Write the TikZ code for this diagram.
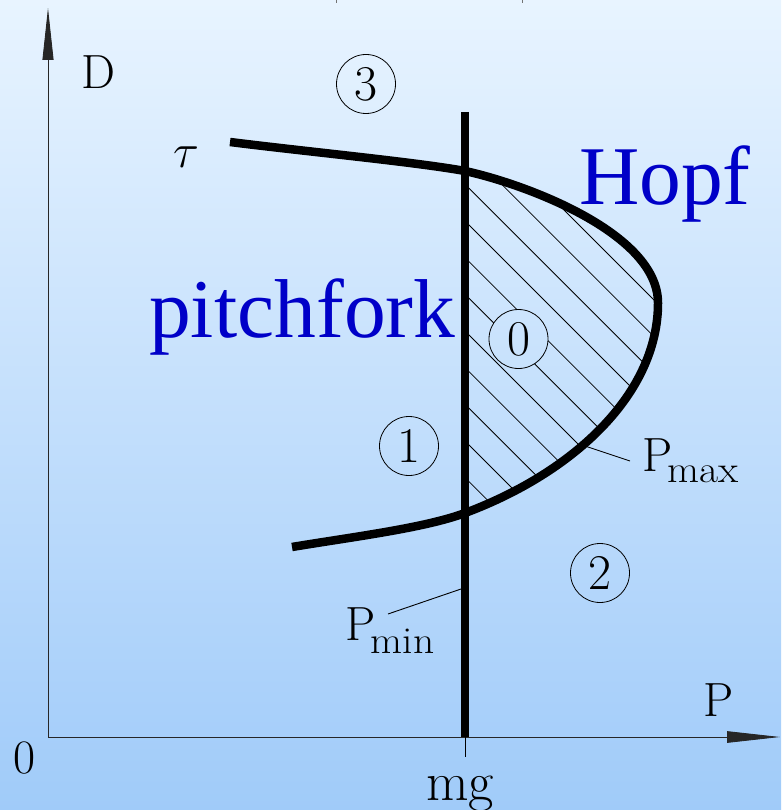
\RequirePackage{fix-cm}
\documentclass[tikz,border=0pt]{standalone}
\usepackage{fontspec}
\newfontfamily\timesf{Liberation Serif}
\usetikzlibrary{arrows.meta}
\definecolor{bgtop}{HTML}{E8F4FF}
\definecolor{bgbot}{HTML}{A0CBF9}
\definecolor{bifblue}{HTML}{0000C8}
\newcommand{\subtxt}[2]{\raisebox{#1}{\scalebox{1.09}[1]{\fontsize{38}{38}\selectfont #2}}}
\begin{document}
\begin{tikzpicture}[x=1pt,y=-1pt,
  axis/.style={line width=0.9pt, draw=black!85},
  heavy/.style={line width=8.5pt},
  hatchline/.style={line width=0.8pt},
  leader/.style={line width=0.9pt},
  region/.style={circle, draw, line width=0.8pt, minimum size=59pt, inner sep=0pt, font=\fontsize{50}{50}\selectfont},
  lab/.style={inner sep=0pt, font=\fontsize{48}{48}\selectfont},
  bif/.style={inner sep=0pt, text=bifblue, font=\timesf\fontsize{83.5}{83.5}\selectfont},
  bgshade/.style={top color=bgtop, bottom color=bgbot}
]
\shade[bgshade] (0,0) rectangle (781,810);
\useasboundingbox (0,0) rectangle (781,810);

% key points
\coordinate (O) at (48,737);
\coordinate (Ytip) at (48,8);
\coordinate (Xtip) at (780,737);
\coordinate (Vtop) at (465,112);
\coordinate (Vbot) at (465,737);
\coordinate (Tick) at (465,757);
\coordinate (A) at (230,142);
\coordinate (B) at (465,171);
\coordinate (C) at (658,303);
\coordinate (E) at (465,513);
\coordinate (F) at (292,547);
\coordinate (pminA) at (388,614);
\coordinate (pminB) at (461,589);
\coordinate (pmaxA) at (582,445);
\coordinate (pmaxB) at (630,461);
\coordinate (t1a) at (336,0);
\coordinate (t1b) at (336,3);
\coordinate (t2a) at (522,0);
\coordinate (t2b) at (522,3);

% hatched region
\begin{scope}
  \clip (B) .. controls (525,184) and (658,233) .. (C)
            .. controls (658,393) and (575,472) .. (E) -- cycle;
  \foreach \k in {-4,...,9} {
    \draw[hatchline] (440,{440-280.7+36.67*\k}) -- (720,{720-280.7+36.67*\k});
  }
\end{scope}
% circle 0 hides the hatching
\begin{scope}
  \clip (518.5,339) circle (29.5);
  \shade[bgshade] (0,0) rectangle (781,810);
\end{scope}

% axes
\draw[axis, -{Triangle[length=52pt,width=11pt]}] (O) -- (Ytip);
\draw[axis, -{Triangle[length=53pt,width=11.5pt]}] (O) -- (Xtip);
\draw[line width=0.8pt] (Vbot) -- (Tick);
\draw[line width=0.8pt, black!55] (t1a) -- (t1b);
\draw[line width=0.8pt, black!55] (t2a) -- (t2b);

% heavy lines
\draw[heavy] (Vtop) -- (Vbot);
\draw[heavy] (A) .. controls (310,152) and (415,162) .. (B)
  .. controls (525,184) and (658,233) .. (C)
  .. controls (658,393) and (575,472) .. (E)
  .. controls (425,528) and (352,537) .. (F);

% leaders
\draw[leader] (pminA) -- (pminB);
\draw[leader] (pmaxA) -- (pmaxB);

% region labels
\node[region] (r3) at (366,84) {3};
\node[region] (r0) at (518.5,339) {0};
\node[region] (r1) at (409,446) {1};
\node[region] (r2) at (600,573) {2};

% text labels
\node[lab, anchor=base west] (Dl) at (81,89) {D};
\node[lab, anchor=base west] (Pl) at (703,716) {P};
\node[lab, anchor=base west] (Ol) at (13,773) {0};
\node[inner sep=0pt, font=\fontsize{55}{55}\selectfont, anchor=base] (mg) at (460,800) {mg};
\node[lab, anchor=base] (tau) at (186,168) {$\tau$};
\node[lab, anchor=base west] (pmin) at (345.5,640) {P\kern-5pt\subtxt{-13pt}{min}};
\node[lab, anchor=base west] (pmax) at (642.5,471) {P\kern-5pt\subtxt{-11pt}{max}};
\node[bif, anchor=base west] (hopf) at (579,205) {Hopf};
\node[bif, anchor=base west] (pf) at (149,337) {pitchfork};
\end{tikzpicture}
\end{document}
